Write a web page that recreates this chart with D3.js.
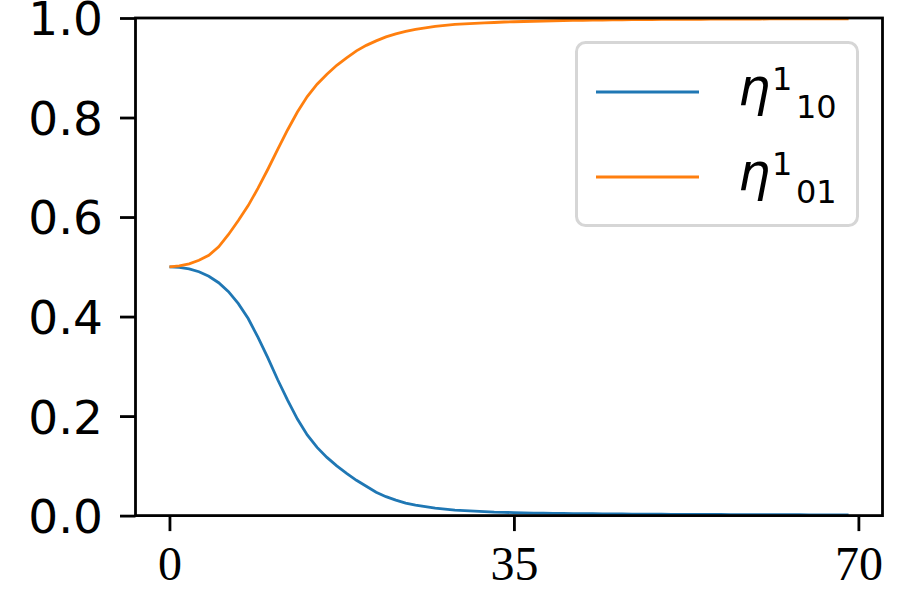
<!DOCTYPE html>
<html>
  <head>
    <style type="text/css">
        body { margin: 0; background: #fff; }
        svg { display: block; }
        .ylab text { font-family: "DejaVu Sans", sans-serif; font-size: 47px; }
        .xlab text { font-family: "Liberation Serif", "Times New Roman", serif; font-size: 48px; }
    </style>
  </head>
  <body>
    <svg width="900" height="600"></svg>
    <script src="https://d3js.org/d3.v7.min.js"></script>
    <script>

    // values, one per step 0..69
    var steps = d3.range(0, 70);

    var eta10 = [0.500, 0.499, 0.496, 0.490, 0.481, 0.468, 0.450, 0.426, 0.396, 0.358,
                 0.317, 0.273, 0.232, 0.194, 0.162, 0.137, 0.117, 0.100, 0.085, 0.071,
                 0.059, 0.047, 0.038, 0.031, 0.025, 0.021, 0.018, 0.015, 0.013, 0.011,
                 0.010, 0.009, 0.008, 0.007, 0.0065, 0.006, 0.0055, 0.005, 0.005, 0.0045,
                 0.0045, 0.004, 0.004, 0.0038, 0.0036, 0.0034, 0.0032, 0.003, 0.003, 0.0028,
                 0.0027, 0.0026, 0.0025, 0.0024, 0.0023, 0.0022, 0.0022, 0.0021, 0.002, 0.002,
                 0.0019, 0.0018, 0.0018, 0.0017, 0.0017, 0.0016, 0.0016, 0.0015, 0.0015, 0.0014];

    var eta01 = [0.500, 0.502, 0.506, 0.513, 0.523, 0.540, 0.565, 0.593, 0.623, 0.658,
                 0.696, 0.736, 0.775, 0.811, 0.842, 0.867, 0.887, 0.905, 0.920, 0.934,
                 0.945, 0.954, 0.962, 0.968, 0.973, 0.977, 0.980, 0.983, 0.985, 0.987,
                 0.988, 0.989, 0.990, 0.991, 0.992, 0.9925, 0.993, 0.9935, 0.994, 0.9945,
                 0.995, 0.9952, 0.9955, 0.9958, 0.996, 0.9962, 0.9964, 0.9966, 0.9968, 0.997,
                 0.9971, 0.9972, 0.9973, 0.9974, 0.9975, 0.9976, 0.9977, 0.9978, 0.9979, 0.998,
                 0.998, 0.9981, 0.9981, 0.9982, 0.9982, 0.9983, 0.9983, 0.9984, 0.9984, 0.9985];

    var xTicks = [0, 35, 70];
    var yTicks = [0, 0.2, 0.4, 0.6, 0.8, 1.0];

    var series = [
        { name: "10", values: eta10, color: "#1f77b4" },
        { name: "01", values: eta01, color: "#ff7f0e" }
    ];

    var svg = d3.select("svg");

    var plotL = 135.5, plotR = 882.5, plotT = 18, plotB = 515.6;

    // matplotlib style 5% margin on x, none on y
    var x = d3.scaleLinear().domain([-3.45, 72.45]).range([plotL, plotR]);
    var y = d3.scaleLinear().domain([0, 1]).range([plotB, plotT]);

    var line = d3.line()
        .x(function(d, i) { return x(steps[i]); })
        .y(function(d) { return y(d); });

    svg.append("g").selectAll("path")
        .data(series)
        .enter().append("path")
        .attr("d", function(d) { return line(d.values); })
        .attr("fill", "none")
        .attr("stroke", function(d) { return d.color; })
        .attr("stroke-width", 2.8);

    // frame
    svg.append("rect")
        .attr("x", plotL).attr("y", plotT)
        .attr("width", plotR - plotL).attr("height", plotB - plotT)
        .attr("fill", "none")
        .attr("stroke", "#000")
        .attr("stroke-width", 2.8);

    // axes
    var yAxis = svg.append("g")
        .attr("class", "ylab")
        .attr("transform", "translate(" + plotL + ",0)")
        .call(d3.axisLeft(y).tickValues(yTicks).tickFormat(d3.format(".1f"))
            .tickSize(15.5).tickPadding(17));
    yAxis.select(".domain").remove();
    yAxis.selectAll("line").attr("stroke", "#000").attr("stroke-width", 2.8);
    yAxis.selectAll("text").attr("fill", "#000").attr("dy", "0.36em");

    var xAxis = svg.append("g")
        .attr("class", "xlab")
        .attr("transform", "translate(0," + plotB + ")")
        .call(d3.axisBottom(x).tickValues(xTicks).tickFormat(d3.format("d"))
            .tickSize(15.5).tickPadding(15));
    xAxis.select(".domain").remove();
    xAxis.selectAll("line").attr("stroke", "#000").attr("stroke-width", 2.8);
    xAxis.selectAll("text").attr("fill", "#000").attr("dy", "0.71em");

    // legend
    var legend = svg.append("g");
    legend.append("rect")
        .attr("x", 576.5).attr("y", 42.5)
        .attr("width", 281).attr("height", 183)
        .attr("rx", 9).attr("ry", 9)
        .attr("fill", "#fff").attr("fill-opacity", 0.8)
        .attr("stroke", "#d6d6d6").attr("stroke-width", 3);

    var items = legend.selectAll("g.item")
        .data(series)
        .enter().append("g")
        .attr("class", "item")
        .attr("transform", function(d, i) { return "translate(0," + (92 + i * 85) + ")"; });

    items.append("line")
        .attr("x1", 596).attr("x2", 699)
        .attr("stroke", function(d) { return d.color; })
        .attr("stroke-width", 2.8);

    var label = items.append("text")
        .attr("x", 738).attr("y", 13)
        .attr("font-family", "DejaVu Sans, sans-serif")
        .attr("fill", "#000");
    label.append("tspan")
        .attr("font-style", "italic")
        .attr("font-size", 51)
        .text("η");
    label.append("tspan")
        .attr("x", 772).attr("y", -2)
        .attr("font-size", 32)
        .text("1");
    label.append("tspan")
        .attr("x", 796).attr("y", 26)
        .attr("font-size", 32)
        .text(function(d) { return d.name; });

    </script>
  </body>
</html>
